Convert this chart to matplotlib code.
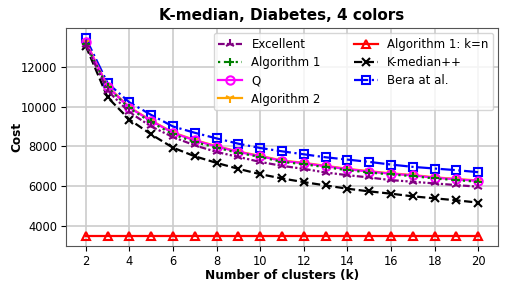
import numpy as np
import matplotlib
matplotlib.use("Agg")
import matplotlib.pyplot as plt

k = np.arange(2, 21)

excellent = [13100, 10800, 9717, 9000, 8467, 8050, 7717, 7467, 7217, 7017,
             6867, 6683, 6550, 6433, 6300, 6217, 6133, 6050, 5967]
algorithm1 = [13150, 10967, 9917, 9217, 8600, 8217, 7933, 7667, 7467, 7217,
              7100, 6950, 6800, 6683, 6583, 6500, 6383, 6300, 6217]
q_vals = [13250, 11000, 9950, 9280, 8680, 8300, 7990, 7720, 7500, 7270,
          7150, 7000, 6850, 6730, 6620, 6540, 6420, 6340, 6260]
algorithm2 = [13270, 11020, 9970, 9300, 8700, 8320, 8010, 7740, 7520, 7290,
              7170, 7020, 6870, 6750, 6640, 6560, 6440, 6360, 6280]
alg1_kn = [3500] * 19
kmedianpp = [13050, 10467, 9350, 8600, 7933, 7500, 7167, 6867, 6600, 6383,
             6200, 6033, 5867, 5733, 5617, 5483, 5383, 5283, 5167]
bera = [13450, 11185, 10217, 9583, 9000, 8683, 8400, 8133, 7917, 7750,
        7600, 7450, 7333, 7217, 7083, 6967, 6883, 6800, 6700]


def main():
    fig, ax = plt.subplots(figsize=(5.09, 2.91), dpi=100)
    fig.subplots_adjust(left=0.130, right=0.978, top=0.903, bottom=0.156)

    lw = 1.6
    ms = 6
    mew = 1.5
    # draw order chosen so Excellent / Algorithm 1 sit on top of Q / Algorithm 2
    ax.plot(k, excellent, color="purple", linestyle=(0, (3, 1, 1, 1, 1, 1)),
            marker="2", ms=ms + 1, mew=mew, lw=lw, label="Excellent", zorder=5)
    ax.plot(k, algorithm1, color="green", linestyle=":", marker="+",
            ms=ms, mew=mew, lw=lw, label="Algorithm 1", zorder=4)
    ax.plot(k, q_vals, color="magenta", linestyle="-", marker="o",
            mfc="none", ms=ms, mew=mew, lw=lw, label="Q", zorder=3)
    ax.plot(k, algorithm2, color="orange", linestyle="-", marker="1",
            ms=ms + 1, mew=mew, lw=lw, label="Algorithm 2", zorder=2.5)
    ax.plot(k, alg1_kn, color="red", linestyle="-", marker="^",
            mfc="none", ms=ms, mew=mew, lw=lw, label="Algorithm 1: k=n")
    ax.plot(k, kmedianpp, color="black", linestyle="--", marker="x",
            ms=ms, mew=mew, lw=lw, label="K-median++")
    ax.plot(k, bera, color="blue", linestyle="-.", marker="s",
            mfc="none", ms=ms, mew=mew, lw=lw, label="Bera at al.")

    ax.set_xticks(np.arange(2, 21, 2))
    ax.set_yticks([4000, 6000, 8000, 10000, 12000])
    ax.tick_params(labelsize=8.3, pad=3)
    ax.grid(True, color="#cccccc", linewidth=1.2)
    for s in ax.spines.values():
        s.set_color("#555555")

    ax.set_title("K-median, Diabetes, 4 colors", fontsize=11, fontweight="bold")
    ax.set_xlabel("Number of clusters (k)", fontsize=8.7, fontweight="bold",
                  labelpad=1)
    ax.set_ylabel("Cost", fontsize=8.7, fontweight="bold")
    ax.yaxis.set_label_coords(-0.10, 0.5)
    ax.legend(ncol=2, fontsize=8.5, loc="upper right", borderaxespad=0.4,
              handlelength=2.0, labelspacing=0.45, columnspacing=2.8)

    fig.savefig("out.png", dpi=100)


if __name__ == "__main__":
    main()
